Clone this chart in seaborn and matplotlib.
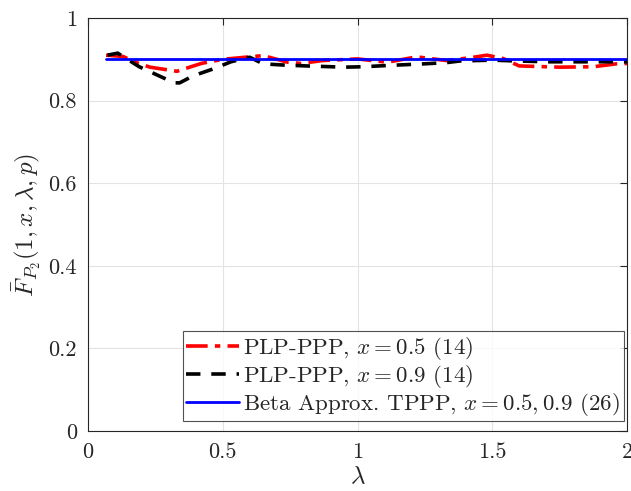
import numpy as np
import pandas as pd
import matplotlib
matplotlib.use("Agg")
import matplotlib.pyplot as plt
import seaborn as sns

# values
lam_red = [0.067, 0.13, 0.17, 0.23, 0.33, 0.42, 0.50, 0.65, 0.74, 0.79, 0.87, 1.0,
           1.11, 1.22, 1.33, 1.42, 1.48, 1.54, 1.60, 1.75, 1.875, 1.96, 2.0]
f_red = [0.910, 0.907, 0.894, 0.881, 0.871, 0.890, 0.900, 0.909, 0.893, 0.890, 0.897, 0.901,
         0.893, 0.906, 0.897, 0.904, 0.910, 0.902, 0.884, 0.881, 0.882, 0.889, 0.890]

lam_black = [0.072, 0.11, 0.19, 0.27, 0.32, 0.34, 0.39, 0.47, 0.53, 0.60, 0.65,
             0.73, 0.81, 0.95, 1.02, 1.11, 1.245, 1.33, 1.38, 1.5, 1.59, 1.71, 2.0]
f_black = [0.910, 0.915, 0.882, 0.858, 0.843, 0.843, 0.860, 0.878, 0.894, 0.905, 0.889,
           0.886, 0.884, 0.881, 0.882, 0.885, 0.889, 0.892, 0.896, 0.898, 0.896, 0.894, 0.894]

lam_blue = [0.067, 2.0]
f_blue = [0.9, 0.9]

labels = [r"PLP-PPP, $x = 0.5$ (14)",
          r"PLP-PPP, $x = 0.9$ (14)",
          r"Beta Approx. TPPP, $x = 0.5, 0.9$ (26)"]

sns.set_style("white")
plt.rcParams["font.family"] = ["cmr10", "DejaVu Serif"]
plt.rcParams["mathtext.fontset"] = "cm"
plt.rcParams["axes.formatter.use_mathtext"] = True

fig = plt.figure(figsize=(6.31, 4.91), dpi=100)
ax = fig.add_axes([0.1395, 0.1222, 0.8542, 0.8411])

df_red = pd.DataFrame({"lam": lam_red, "F": f_red})
df_black = pd.DataFrame({"lam": lam_black, "F": f_black})
df_blue = pd.DataFrame({"lam": lam_blue, "F": f_blue})

sns.lineplot(data=df_red, x="lam", y="F", ax=ax, color="red", lw=2.6,
             label=labels[0], sort=False, estimator=None)
ax.lines[-1].set_dashes([6, 2, 1.5, 2])
sns.lineplot(data=df_black, x="lam", y="F", ax=ax, color="black", lw=2.6,
             label=labels[1], sort=False, estimator=None)
ax.lines[-1].set_dashes([4, 3])
sns.lineplot(data=df_blue, x="lam", y="F", ax=ax, color="blue", lw=2.0,
             label=labels[2], sort=False, estimator=None)

ax.set_xlim(0, 2)
ax.set_ylim(0, 1)
ax.set_xticks([0, 0.5, 1, 1.5, 2])
ax.set_xticklabels(["0", "0.5", "1", "1.5", "2"])
ax.set_yticks([0, 0.2, 0.4, 0.6, 0.8, 1])
ax.set_yticklabels(["0", "0.2", "0.4", "0.6", "0.8", "1"])
ax.grid(True, color="#e3e3e3", lw=0.8)
ax.tick_params(direction="in", top=True, right=True, length=5, width=0.8,
               labelsize=16, colors="#262626", pad=8)
for s in ax.spines.values():
    s.set_color("#262626")
    s.set_linewidth(0.8)

ax.set_xlabel(r"$\lambda$", fontsize=18, labelpad=3)
ax.set_ylabel(r"$\bar{F}_{P_2}(1, x, \lambda, p)$", fontsize=18, labelpad=4)

leg = ax.legend(loc="lower right", bbox_to_anchor=(1.0, 0.015), fontsize=16.5,
                frameon=True, fancybox=False, handlelength=2.3, handletextpad=0.2,
                borderpad=0.15, labelspacing=0.05, borderaxespad=0.15)
leg.get_frame().set_edgecolor("#262626")
leg.get_frame().set_linewidth(0.8)

plt.savefig("out.png", dpi=100, facecolor="white")
plt.close()
